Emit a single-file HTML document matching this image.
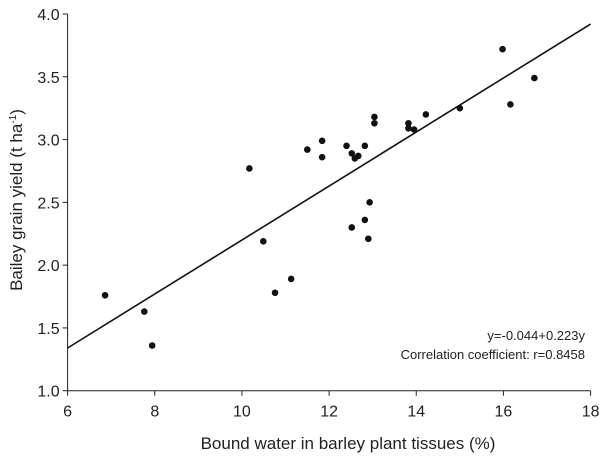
<!DOCTYPE html>
<html><head><meta charset="utf-8"><style>
html,body{margin:0;padding:0;background:#fff;}
svg text{font-family:"Liberation Sans",sans-serif;fill:#222;}
</style></head><body>
<svg id="chart" width="603" height="463" viewBox="0 0 603 463" xmlns="http://www.w3.org/2000/svg">
<g id="axes"></g>
<g id="marks"></g>
<text transform="translate(22,200) rotate(-90)" text-anchor="middle" font-size="17">Bailey grain yield (t ha<tspan dy="-6" font-size="10">-1</tspan><tspan dy="6">)</tspan></text>
<text x="348" y="449" text-anchor="middle" font-size="17">Bound water in barley plant tissues (%)</text>
<text x="585" y="340" text-anchor="end" font-size="13">y=-0.044+0.223y</text>
<text x="585" y="359" text-anchor="end" font-size="13">Correlation coefficient: r=0.8458</text>
</svg>
<script>
const xTicks=[6,8,10,12,14,16,18];
const yTicks=[1.0,1.5,2.0,2.5,3.0,3.5,4.0];
const xValues=[6.86,7.76,7.94,10.17,10.49,10.76,11.13,11.50,11.84,11.84,12.40,12.52,12.59,12.67,12.82,12.52,12.82,12.90,12.93,13.04,13.04,13.82,13.82,13.95,14.22,15.00,15.98,16.16,16.71];
const yValues=[1.76,1.63,1.36,2.77,2.19,1.78,1.89,2.92,2.99,2.86,2.95,2.89,2.85,2.87,2.95,2.30,2.36,2.21,2.50,3.18,3.13,3.13,3.09,3.08,3.20,3.25,3.72,3.28,3.49];
const fitIntercept=0.05;
const fitSlope=0.215;
const X0=67.6,X1=590.6,Y0=390.7,Y1=14;
const sx=v=>X0+(v-6)/12*(X1-X0);
const sy=v=>Y0-(v-1)/3*(Y0-Y1);
const NS="http://www.w3.org/2000/svg";
function mk(tag,attrs,parent){const e=document.createElementNS(NS,tag);for(const k in attrs)e.setAttribute(k,attrs[k]);parent.appendChild(e);return e;}
const axes=document.getElementById('axes');
let l=mk('line',{x1:X0,y1:Y0,x2:X1,y2:Y0,stroke:'#222','stroke-width':1},axes);


l=mk('line',{x1:X0,y1:Y0,x2:X0,y2:Y1,stroke:'#222','stroke-width':1},axes);


xTicks.forEach(t=>{
  const tk=mk('line',{x1:sx(t),y1:Y0,x2:sx(t),y2:Y0+5,stroke:'#222'},axes);
  
  
  const tx=mk('text',{x:sx(t),y:Y0+26,'text-anchor':'middle','font-size':16},axes);
  tx.textContent=t;
  
  
});
yTicks.forEach(t=>{
  const tk=mk('line',{x1:X0-5,y1:sy(t),x2:X0,y2:sy(t),stroke:'#222'},axes);
  
  
  const tx=mk('text',{x:X0-8,y:sy(t)+6,'text-anchor':'end','font-size':16},axes);
  tx.textContent=t.toFixed(1);
  
  
});
const marks=document.getElementById('marks');
const fit=mk('line',{x1:sx(6),y1:sy(fitIntercept+fitSlope*6),x2:sx(18),y2:sy(fitIntercept+fitSlope*18),stroke:'#111','stroke-width':1.6},marks);


xValues.forEach((x,i)=>{
  const c=mk('circle',{cx:sx(x),cy:sy(yValues[i]),r:3.3,fill:'#111'},marks);
  
  
});
</script>
</body></html>
